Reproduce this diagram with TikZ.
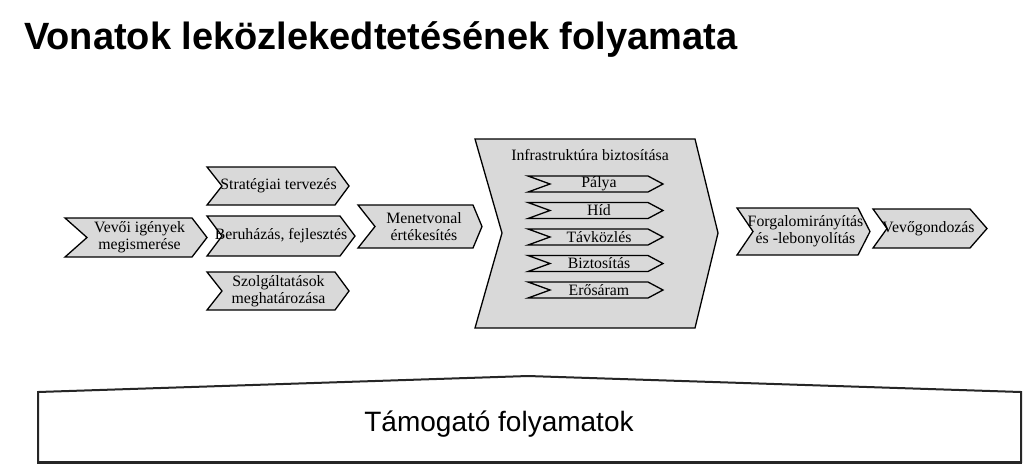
\documentclass[tikz,border=0pt]{standalone}
\usepackage{fontspec}
\setmainfont{Liberation Serif}
\newfontfamily\arialfont{Liberation Sans}
\definecolor{chevfill}{RGB}{217,217,217}
\newcommand\chevron[8]{%
  \draw[chev] (#2,#6) -- (#4,#6) -- (#5,{(#6+#7)/2}) -- (#4,#7) -- (#2,#7) -- (#3,{(#6+#7)/2}) -- cycle;
  \node[lbl] (#1) at ({(#3+#4)/2},{(#6+#7)/2}) {#8};}
\begin{document}
\begin{tikzpicture}[x=1pt,y=-1pt,
  chev/.style={draw=black,fill=chevfill,line width=1.3pt,line join=miter},
  lbl/.style={align=center,inner sep=0pt,font=\fontsize{15.8}{17}\selectfont},
  supp/.style={draw=black!85,fill=white,line width=2pt,line join=miter}]
\useasboundingbox (0,0) rectangle (1024,467);
% title
\node[anchor=base west,inner sep=0pt,font=\arialfont\bfseries\fontsize{38}{44}\selectfont] (title) at (24,49) {Vonatok leközlekedtetésének folyamata};
% chevrons
\chevron{vevoi}{65}{87}{192}{207}{218}{257}{Vevői igények\\megismerése}
\chevron{strat}{207}{222}{335}{349}{167}{205}{Stratégiai tervezés}
\chevron{beruh}{207}{222}{340}{355}{216}{256}{Beruházás, fejlesztés}
\chevron{szolg}{207}{222}{335}{349}{272}{310}{Szolgáltatások\\meghatározása}
\chevron{menet}{358}{375}{473}{482}{205}{248}{Menetvonal\\értékesítés}
% infrastructure big chevron
\draw[chev] (475,139) -- (695,139) -- (718,233) -- (695,328) -- (475,328) -- (502,233) -- cycle;
\node[lbl] (infra) at (590,155) {Infrastruktúra biztosítása};
\chevron{palya}{528}{550}{648}{663}{176}{192}{Pálya}
\chevron{hid}{528}{550}{648}{663}{202.5}{218.5}{Híd}
\chevron{tavk}{528}{550}{648}{663}{229}{245}{Távközlés}
\chevron{bizt}{528}{550}{648}{663}{255.5}{271.5}{Biztosítás}
\chevron{eros}{528}{550}{648}{663}{282}{298}{Erősáram}
\chevron{forg}{737}{753}{858}{870}{208}{255}{Forgalomirányítás\\és -lebonyolítás}
\chevron{vevog}{873}{887}{970}{987}{209}{248}{Vevőgondozás}
% support processes
\draw[supp] (38,392) -- (528,376) -- (1021,392) -- (1021,462) -- (38,462) -- cycle;
\draw[draw=black!85,line width=3pt] (37,462) -- (1022,462);
\node[anchor=base,inner sep=0pt,font=\arialfont\fontsize{28}{32}\selectfont] (tamog) at (499,431) {Támogató folyamatok};
\end{tikzpicture}
\end{document}
